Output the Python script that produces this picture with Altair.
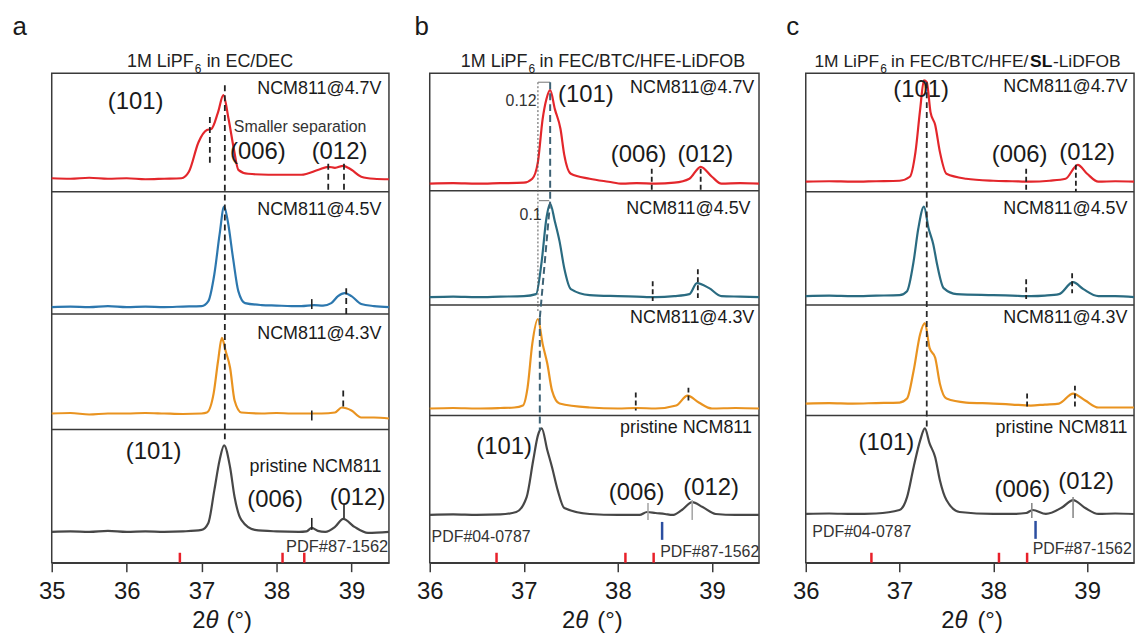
import altair as alt
import pandas as pd

FONT = "Liberation Sans"
H = 492  # stacked intensity range of each column (a.u.)

# ---------------- panel a : 1M LiPF6 in EC/DEC ----------------
A_T47 = [35.0, 35.25, 35.5, 35.75, 36.0, 36.25, 36.5, 36.73, 36.83, 36.96, 37.07, 37.13, 37.22, 37.29, 37.36, 37.43, 37.49, 37.62, 37.89, 38.1, 38.33, 38.56, 38.69, 38.78, 38.89, 39.0, 39.13, 39.3, 39.5]
A_I47 = [0.5, 0, 1, 0, 0.5, -0.5, 0, 0.5, 7, 37, 49, 50, 67, 84, 60, 30, 9, 5, 4, 4, 4, 9, 12, 11, 13, 9, 2, 0, -0.5]
A_T45 = [35.0, 35.25, 35.5, 35.75, 36.0, 36.25, 36.5, 36.75, 37.0, 37.09, 37.17, 37.24, 37.3, 37.35, 37.42, 37.49, 37.58, 37.8, 38.0, 38.2, 38.33, 38.5, 38.62, 38.73, 38.82, 38.91, 39.0, 39.13, 39.3, 39.5]
A_I45 = [0, 0.5, 0, 1, 0, 0.5, 0, 0.5, 1, 6, 33, 73, 101, 86, 49, 16, 4, 2, 1.5, 1, 1, 2, 1.5, 4, 11, 14, 11, 3, 1, 0]
A_T43 = [35.0, 35.25, 35.5, 35.75, 36.0, 36.25, 36.5, 36.75, 37.0, 37.07, 37.16, 37.22, 37.27, 37.32, 37.38, 37.44, 37.53, 37.8, 38.0, 38.2, 38.4, 38.6, 38.78, 38.87, 39.0, 39.13, 39.3, 39.5]
A_I43 = [0, 0.5, -1, 0, 0, 0.5, 0, -0.5, 0, 1, 20, 53, 76, 63, 46, 13, 1, 0, 0.5, 0, 0, 0, 1, 6, 3, -4, -4, -5]
A_TP = [35.0, 35.25, 35.5, 35.75, 36.0, 36.25, 36.5, 36.75, 37.0, 37.09, 37.17, 37.24, 37.3, 37.38, 37.44, 37.53, 37.71, 38.0, 38.3, 38.4, 38.47, 38.55, 38.65, 38.78, 38.89, 39.04, 39.22, 39.5]
A_IP = [0, 0.5, 0, 1, 0, 0.5, 0, 0.5, 2, 9, 42, 72, 87, 65, 35, 12, 2, 0.5, 0, 0.5, 4, 1, 0, 5, 13, 5, -1, 0]
A_OFFSETS = [386, 257, 150, 31]
A_DIVIDERS = [373, 250, 134]
A_DASH_T = [37.31, 37.11, 38.69, 38.90, 38.93, 38.89]
A_DASH_Y = [480, 448, 401, 401, 276, 173]
A_DASH_Y2 = [120, 400, 375, 375, 246, 153]
A_TICK_T = [38.47, 38.47, 38.47, 38.90]
A_TICK_Y = [265, 153, 45, 58]
A_TICK_Y2 = [255, 143, 33, 45]
A_REF_RED = [36.71, 38.08, 38.37]

# ---------------- panel b : FEC/BTC/HFE-LiDFOB ----------------
B_T47 = [36.0, 36.25, 36.5, 36.75, 37.0, 37.09, 37.15, 37.2, 37.24, 37.28, 37.33, 37.39, 37.43, 37.5, 37.7, 37.9, 38.05, 38.2, 38.4, 38.6, 38.76, 38.88, 39.0, 39.1, 39.3, 39.5]
B_I47 = [0, 0.5, 0, 0.5, 1, 5, 22, 65, 85, 94, 75, 55, 29, 10, 5, 2, 0, 0.5, 0, 1, 5, 17, 7, 0, 0.5, 0]
B_T45 = [36.0, 36.25, 36.5, 36.75, 37.0, 37.13, 37.19, 37.24, 37.28, 37.33, 37.38, 37.43, 37.5, 37.7, 38.0, 38.2, 38.4, 38.6, 38.76, 38.84, 38.97, 39.1, 39.3, 39.5]
B_I45 = [0, 0.5, 0, 0.5, 1, 3, 36, 79, 94, 76, 56, 29, 8, 2, 1, 0.5, 0, 1, 3, 14, 9, 1, 0.5, 0]
B_T43 = [36.0, 36.25, 36.5, 36.75, 36.9, 36.99, 37.04, 37.09, 37.15, 37.2, 37.25, 37.3, 37.38, 37.7, 38.0, 38.2, 38.4, 38.62, 38.74, 38.86, 39.0, 39.25, 39.5]
B_I43 = [0, 0.5, 0, 0.5, 1, 3, 21, 65, 90, 65, 45, 18, 5, 1, 0, 0.5, 0, 3, 13, 6, 0, 0.5, 0]
B_TP = [36.0, 36.25, 36.5, 36.75, 36.92, 37.03, 37.1, 37.15, 37.19, 37.25, 37.3, 37.36, 37.43, 37.7, 38.0, 38.23, 38.31, 38.4, 38.5, 38.58, 38.68, 38.79, 38.9, 39.04, 39.25, 39.5]
B_IP = [0, 0.5, 0, 0.5, 3, 18, 55, 80, 87, 65, 48, 25, 7, 1, 0, 0, 3, 2, 1, 0, 5, 13, 8, 1, 0, 0]
B_OFFSETS = [381, 267, 155, 48]
B_DIVIDERS = [374, 259, 148]
B_SHIFT_T = [37.28, 37.28, 37.17]
B_SHIFT_T2 = [37.28, 37.17, 37.17]
B_SHIFT_Y = [483, 363, 246]
B_SHIFT_Y2 = [363, 246, 133]
B_DOT_T = [37.15]
B_DOT_Y = [483]
B_DOT_Y2 = [253]
B_BRACKET_T = [37.15, 37.16]
B_BRACKET_T2 = [37.28, 37.27]
B_BRACKET_Y = [483, 364]
B_DASH_T = [38.36, 38.88, 38.37, 38.85, 38.19, 38.75]
B_DASH_Y = [396, 396, 283, 295, 171, 176]
B_DASH_Y2 = [373, 373, 263, 266, 153, 160]
B_GRAY_T = [38.32, 38.79]
B_GRAY_Y = [60, 63]
B_GRAY_Y2 = [43, 43]
B_REF_BLUE = [38.47]
B_REF_RED = [36.71, 38.08, 38.38]

# ---------------- panel c : FEC/BTC/HFE/SL-LiDFOB ----------------
C_T47 = [36.0, 36.25, 36.5, 36.75, 37.0, 37.11, 37.17, 37.22, 37.26, 37.29, 37.33, 37.38, 37.43, 37.5, 37.71, 38.0, 38.2, 38.4, 38.6, 38.77, 38.9, 39.0, 39.12, 39.3, 39.5]
C_I47 = [0, 0.5, 0, 0.5, 1, 5, 30, 73, 102, 100, 70, 57, 30, 8, 3, 1, 0.5, 0, 1, 3, 17, 8, 0, 0.5, 0]
C_T45 = [36.0, 36.25, 36.5, 36.75, 37.0, 37.08, 37.15, 37.2, 37.26, 37.31, 37.36, 37.4, 37.47, 37.61, 38.0, 38.2, 38.4, 38.55, 38.7, 38.85, 38.96, 39.12, 39.3, 39.5]
C_I45 = [0, 0.5, 0, 0.5, 1, 5, 35, 68, 90, 68, 52, 32, 8, 2, 1, 0.5, 0, 0.5, 2, 14, 7, 0, 0, -1]
C_T43 = [36.0, 36.25, 36.5, 36.75, 37.0, 37.08, 37.15, 37.22, 37.27, 37.32, 37.38, 37.43, 37.5, 37.71, 38.0, 38.2, 38.4, 38.55, 38.7, 38.85, 38.98, 39.12, 39.3, 39.5]
C_I43 = [0, 0.5, 0, 0.5, 1, 5, 33, 70, 81, 56, 46, 20, 5, 1, 0, -1, -2, -1, 0, 10, 3, -4, -4, -4]
C_TP = [36.0, 36.25, 36.5, 36.75, 37.0, 37.08, 37.15, 37.22, 37.27, 37.32, 37.38, 37.43, 37.5, 37.64, 38.0, 38.2, 38.35, 38.42, 38.56, 38.74, 38.85, 38.98, 39.12, 39.3, 39.5]
C_IP = [0, 0.5, 0, 0.5, 4, 17, 47, 74, 86, 71, 57, 34, 14, 2, 0, 0, 1, 4, 0, 7, 14, 6, 0, 0.5, 0]
C_OFFSETS = [383, 268, 160, 49]
C_DIVIDERS = [373, 259, 148]
C_LONG_T = [37.29]
C_LONG_Y = [483]
C_LONG_Y2 = [133]
C_DASH_T = [38.35, 38.88, 38.35, 38.84, 38.36, 38.87]
C_DASH_Y = [396, 400, 285, 291, 170, 178]
C_DASH_Y2 = [375, 373, 265, 271, 156, 156]
C_GRAY_T = [38.41, 38.85]
C_GRAY_Y = [60, 66]
C_GRAY_Y2 = [45, 45]
C_REF_BLUE = [38.45]
C_REF_RED = [36.70, 38.06, 38.36]

SAMPLES = ["NCM811@4.7V", "NCM811@4.5V", "NCM811@4.3V", "pristine NCM811"]
HKL = ["(101)", "(006)", "(012)"]

RED = "#e3262b"
BLUE_A = "#2c77ae"
TEAL = "#2a6b81"
ORANGE = "#e99320"
GRAY = "#474747"
INK = "#1a1a1a"
FRAME = "#3a3a3a"
TITLE_SIZE = 18
TITLE_SIZE_C = 17.5


def enc(xdom):
    X = alt.X("t:Q", scale=alt.Scale(domain=xdom, nice=False, zero=False),
              axis=alt.Axis(values=[v / 2 for v in range(int(xdom[0] * 2), int(xdom[1] * 2) + 1)],
                            labelExpr="datum.value % 1 === 0 ? datum.label : ''",
                            format="d", labelOverlap=False, labelFlush=False,
                            tickSize={"condition": {"test": "datum.value % 1 !== 0", "value": 5}, "value": 9},
                            title=None))
    Y = alt.Y("y:Q", scale=alt.Scale(domain=[0, H], nice=False, zero=False), axis=None)
    return X, Y


def trace(X, Y, T, I, off, color):
    df = pd.DataFrame({"t": T, "y": [v + off for v in I]})
    return alt.Chart(df).mark_line(color=color, strokeWidth=2.2, interpolate="monotone").encode(x=X, y=Y)


def segs(X, Y, t, y, y2, color, width, dash=None, t2=None):
    df = pd.DataFrame({"t": t, "t2": t2 if t2 is not None else t, "y": y, "y2": y2})
    kw = dict(color=color, strokeWidth=width)
    if dash:
        kw["strokeDash"] = dash
    return alt.Chart(df).mark_rule(**kw).encode(x=X, x2="t2:Q", y=Y, y2="y2:Q")


def hline(X, Y, t, t2, y, color, width):
    df = pd.DataFrame({"t": t, "t2": t2, "y": y, "y2": y})
    return alt.Chart(df).mark_rule(color=color, strokeWidth=width).encode(x=X, x2="t2:Q", y=Y, y2="y2:Q")


def dividers(Y, ys):
    df = pd.DataFrame({"y": ys})
    return alt.Chart(df).mark_rule(color=FRAME, strokeWidth=1.5).encode(y=Y)


def texts(X, Y, t, y, labels, size, align="center", weight="normal", style="normal", color=INK):
    df = pd.DataFrame({"t": t, "y": y, "label": labels})
    return alt.Chart(df).mark_text(font=FONT, fontSize=size, align=align, baseline="middle",
                                   fontWeight=weight, fontStyle=style, color=color).encode(
        x=X, y=Y, text="label:N")


def red_refs(X, Y, ts):
    return segs(X, Y, ts, [0] * len(ts), [10] * len(ts), "#e8202a", 2.5)


# ---------------- column a ----------------
X, Y = enc([35, 39.5])
col_a = alt.layer(
    dividers(Y, A_DIVIDERS),
    trace(X, Y, A_T47, A_I47, A_OFFSETS[0], RED),
    trace(X, Y, A_T45, A_I45, A_OFFSETS[1], BLUE_A),
    trace(X, Y, A_T43, A_I43, A_OFFSETS[2], ORANGE),
    trace(X, Y, A_TP, A_IP, A_OFFSETS[3], GRAY),
    segs(X, Y, A_DASH_T, A_DASH_Y, A_DASH_Y2, "#222222", 1.8, [6, 4]),
    segs(X, Y, A_TICK_T, A_TICK_Y, A_TICK_Y2, "#222222", 1.6),
    red_refs(X, Y, A_REF_RED),
    texts(X, Y, [39.4, 39.4, 39.4, 39.4], [476, 355, 230, 96], SAMPLES, 18, "right"),
    texts(X, Y, [36.12, 37.75, 38.84], [463, 413, 413], HKL, 24),
    texts(X, Y, [36.36, 37.98, 39.08], [111, 63, 65], HKL, 24),
    texts(X, Y, [37.43], [438], ["Smaller separation"], 16, "left", color="#333333"),
    texts(X, Y, [39.49], [16], ["PDF#87-1562"], 16.5, "right", color="#333333"),
    texts(X, Y, [36.893], [503], ["1M LiPF"], TITLE_SIZE, "right", color="#222222"),
    texts(X, Y, [36.907], [496], ["6"], 12, "left", color="#222222"),
    texts(X, Y, [37.067], [503], ["in EC/DEC"], TITLE_SIZE, "left", color="#222222"),
    texts(X, Y, [34.573], [538], ["a"], 26),
    texts(X, Y, [37.053], [-59], ["2"], 24, "right"),
    texts(X, Y, [37.053], [-59], ["θ"], 24, "left", style="italic"),
    texts(X, Y, [37.333], [-59], ["(°)"], 24, "left"),
).properties(width=339, height=H)

# ---------------- column b ----------------
X, Y = enc([36, 39.5])
col_b = alt.layer(
    dividers(Y, B_DIVIDERS),
    trace(X, Y, B_T47, B_I47, B_OFFSETS[0], RED),
    trace(X, Y, B_T45, B_I45, B_OFFSETS[1], TEAL),
    trace(X, Y, B_T43, B_I43, B_OFFSETS[2], ORANGE),
    trace(X, Y, B_TP, B_IP, B_OFFSETS[3], GRAY),
    segs(X, Y, B_DOT_T, B_DOT_Y, B_DOT_Y2, "#555555", 1, [2, 2]),
    hline(X, Y, B_BRACKET_T, B_BRACKET_T2, B_BRACKET_Y, "#8a8a8a", 1.2),
    segs(X, Y, B_SHIFT_T, B_SHIFT_Y, B_SHIFT_Y2, "#3d6275", 2, [7, 4], t2=B_SHIFT_T2),
    segs(X, Y, B_DASH_T, B_DASH_Y, B_DASH_Y2, "#222222", 1.8, [5, 3]),
    segs(X, Y, B_GRAY_T, B_GRAY_Y, B_GRAY_Y2, "#a8a8a8", 1.6),
    segs(X, Y, B_REF_BLUE, [41], [23], "#2b4ea0", 2.5),
    red_refs(X, Y, B_REF_RED),
    texts(X, Y, [39.45, 39.41, 39.45, 39.425], [477, 356, 246, 135], SAMPLES, 18, "right"),
    texts(X, Y, [37.66, 38.22, 38.93], [470, 410, 410], HKL, 24),
    texts(X, Y, [36.79, 38.2, 38.99], [116, 70, 75], HKL, 24),
    texts(X, Y, [37.135], [464], ["0.12"], 16, "right", color="#333333"),
    texts(X, Y, [37.19], [350], ["0.1"], 16, "right", color="#333333"),
    texts(X, Y, [36.02], [26], ["PDF#04-0787"], 16, "left", color="#333333"),
    texts(X, Y, [38.45], [11], ["PDF#87-1562"], 16, "left", color="#333333"),
    texts(X, Y, [37.039], [503], ["1M LiPF"], TITLE_SIZE, "right", color="#222222"),
    texts(X, Y, [37.05], [496], ["6"], 12, "left", color="#222222"),
    texts(X, Y, [37.166], [503], ["in FEC/BTC/HFE-LiDFOB"], TITLE_SIZE, "left", color="#222222"),
    texts(X, Y, [35.915], [538], ["b"], 26),
    texts(X, Y, [37.548], [-59], ["2"], 24, "right"),
    texts(X, Y, [37.548], [-59], ["θ"], 24, "left", style="italic"),
    texts(X, Y, [37.78], [-59], ["(°)"], 24, "left"),
).properties(width=331, height=H)

# ---------------- column c ----------------
X, Y = enc([36, 39.5])
col_c = alt.layer(
    dividers(Y, C_DIVIDERS),
    trace(X, Y, C_T47, C_I47, C_OFFSETS[0], RED),
    trace(X, Y, C_T45, C_I45, C_OFFSETS[1], TEAL),
    trace(X, Y, C_T43, C_I43, C_OFFSETS[2], ORANGE),
    trace(X, Y, C_TP, C_IP, C_OFFSETS[3], GRAY),
    segs(X, Y, C_LONG_T, C_LONG_Y, C_LONG_Y2, "#2a2a2a", 1.8, [6, 4]),
    segs(X, Y, C_DASH_T, C_DASH_Y, C_DASH_Y2, "#222222", 1.8, [5, 3]),
    segs(X, Y, C_GRAY_T, C_GRAY_Y, C_GRAY_Y2, "#8a8a8a", 1.6),
    segs(X, Y, C_REF_BLUE, [42], [24], "#2b4ea0", 2.5),
    red_refs(X, Y, C_REF_RED),
    texts(X, Y, [39.43, 39.43, 39.43, 39.43], [478, 356, 246, 135], SAMPLES, 18, "right"),
    texts(X, Y, [37.23, 38.28, 39.0], [475, 410, 412], HKL, 24),
    texts(X, Y, [36.86, 38.31, 38.99], [120, 73, 81], HKL, 24),
    texts(X, Y, [36.07], [31], ["PDF#04-0787"], 16, "left", color="#333333"),
    texts(X, Y, [38.42], [14], ["PDF#87-1562"], 16, "left", color="#333333"),
    texts(X, Y, [36.783], [503], ["1M LiPF"], TITLE_SIZE_C, "right", color="#222222"),
    texts(X, Y, [36.794], [496], ["6"], 12, "left", color="#222222"),
    texts(X, Y, [36.910], [503], ["in FEC/BTC/HFE/"], TITLE_SIZE_C, "left", color="#222222"),
    texts(X, Y, [38.392], [503], ["SL"], TITLE_SIZE_C, "left", weight="bold", color="#111111"),
    texts(X, Y, [38.635], [503], ["-LiDFOB"], TITLE_SIZE_C, "left", color="#222222"),
    texts(X, Y, [35.862], [538], ["c"], 26),
    texts(X, Y, [37.587], [-59], ["2"], 24, "right"),
    texts(X, Y, [37.587], [-59], ["θ"], 24, "left", style="italic"),
    texts(X, Y, [37.83], [-59], ["(°)"], 24, "left"),
).properties(width=330, height=H)

inner = alt.hconcat(col_b, col_c, spacing=47, bounds="flush")
chart = alt.hconcat(col_a, inner, spacing=41, bounds="flush").properties(
    padding={"left": 11, "top": 12, "right": 0, "bottom": 0},
    background="white",
).configure_view(
    stroke=FRAME, strokeWidth=1.5
).configure_axis(
    labelFont=FONT, labelFontSize=24, labelColor=INK, labelPadding=8,
    domainColor=FRAME, domainWidth=1.5, tickColor=FRAME, tickWidth=1.5,
    grid=False,
)

chart.save("out.html", embed_options={"renderer": "svg", "actions": False})
